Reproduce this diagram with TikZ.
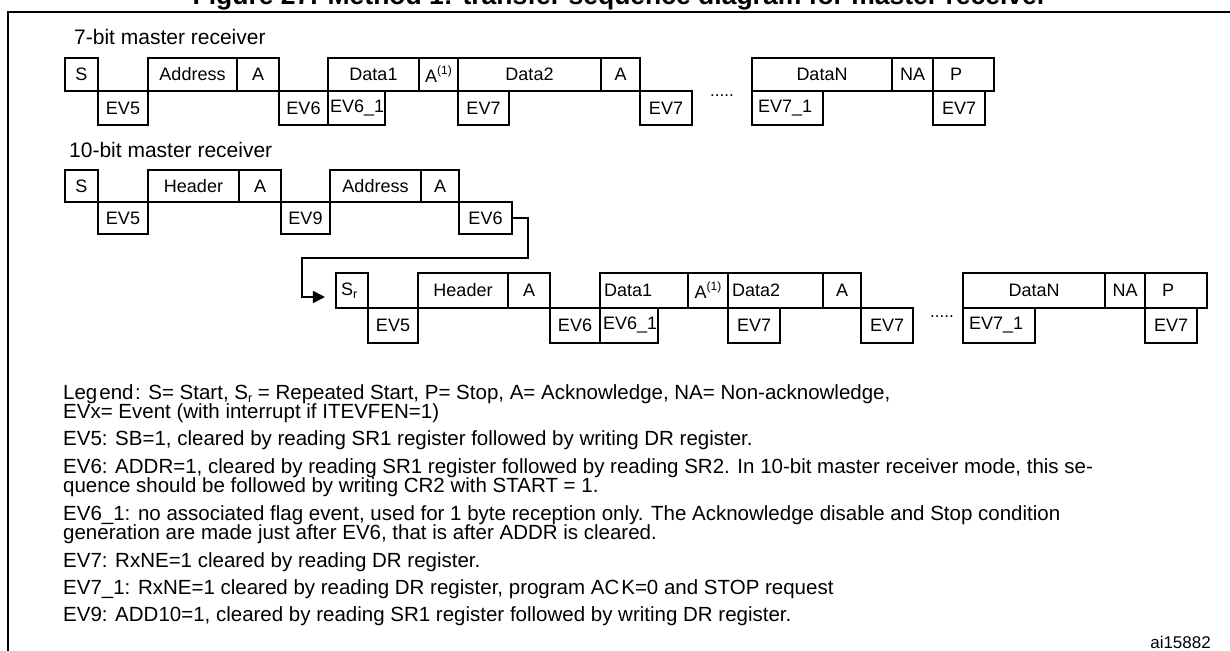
\documentclass[tikz,border=0pt]{standalone}
\usepackage{fontspec}
\setmainfont{Liberation Sans}
\usetikzlibrary{arrows.meta}
\newcommand\supone{\raisebox{0.45em}{\fontsize{12}{12}\selectfont(1)}}
\newcommand\subr{\raisebox{-0.15em}{\fontsize{12.5}{12.5}\selectfont r}}
% \cellbox{name}{x1}{x2}{y1}{y2}{label}
\newcommand\cellbox[6]{\node[cell,minimum width={#3pt-#2pt},minimum height={#5pt-#4pt}] (#1) at ({(#2+#3)/2},{(#4+#5)/2}) {#6};}
% \lcellbox[pad]{name}{x1}{x2}{y1}{y2}{label}
\newcommand\lcellbox[7][4]{\node[cell,minimum width={#4pt-#3pt},minimum height={#6pt-#5pt},text width={#4pt-#3pt-2*#1pt},inner xsep=#1pt,align=left] (#2) at ({(#3+#4)/2},{(#5+#6)/2}) {#7};}
\begin{document}
\begin{tikzpicture}[x=1pt,y=-1pt,
  cell/.style={draw,line width=2.1pt,inner sep=0pt,font=\fontsize{18}{20}\selectfont},
  heading/.style={anchor=base west,inner sep=0pt,font=\fontsize{21}{21}\selectfont},
  legline/.style={anchor=base west,inner sep=0pt,font=\fontsize{20.5}{21}\selectfont},
  dotsnode/.style={anchor=base,inner sep=0pt,font=\fontsize{17}{17}\selectfont},
  conn/.style={line width=1.7pt,-{Triangle[length=12pt,width=12pt]},shorten >=10pt}]
\useasboundingbox (0,0) rectangle (1230,650);
\clip (0,0) rectangle (1230,650);
% title (cut at top) and frame
\node[anchor=base,inner sep=0pt,font=\bfseries\fontsize{26.5}{27}\selectfont] (title) at (620,5) {Figure 27. Method 1: transfer sequence diagram for master receiver};
\draw[line width=2.4pt] (1232,12) -- (8,12) -- (8,652);
% ---------------- 7-bit
\node[heading] (h7) at (74,45) {7-bit master receiver};
\cellbox{a1}{65}{98}{58}{91}{S}
\cellbox{a2}{148}{237}{58}{91}{Address}
\cellbox{a3}{237}{279}{58}{91}{A}
\cellbox{a4}{328}{419}{58}{91}{Data1}
\cellbox{a5}{419}{458}{58}{91}{A\supone}
\cellbox{a6}{458}{601}{58}{91}{Data2}
\cellbox{a7}{601}{640}{58}{91}{A}
\cellbox{a8}{752}{892}{58}{91}{DataN}
\cellbox{a9}{892}{933}{58}{91}{NA}
\lcellbox[17]{a10}{933}{994}{58}{91}{P}
\cellbox{b1}{98}{148}{91}{125}{EV5}
\cellbox{b2}{279}{328}{91}{125}{EV6}
\lcellbox[2]{b3}{328}{385}{91}{125}{EV6\_1}
\cellbox{b4}{458}{509}{91}{125}{EV7}
\cellbox{b5}{640}{692}{91}{125}{EV7}
\lcellbox[6]{b6}{752}{823}{91}{125}{EV7\_1}
\cellbox{b7}{933}{985}{91}{125}{EV7}
\node[dotsnode] (d1) at (722,97) {.....};
% ---------------- 10-bit
\node[heading] (h10) at (69,157) {10-bit master receiver};
\cellbox{c1}{65}{98}{170}{202}{S}
\cellbox{c2}{148}{239}{170}{202}{Header}
\cellbox{c3}{239}{281}{170}{202}{A}
\cellbox{c4}{330}{421}{170}{202}{Address}
\cellbox{c5}{421}{459}{170}{202}{A}
\cellbox{e1}{98}{148}{202}{234}{EV5}
\cellbox{e2}{281}{330}{202}{234}{EV9}
\cellbox{e3}{459}{512}{202}{234}{EV6}
% ---------------- continuation
\lcellbox[5]{f1}{336}{368}{273}{308}{S\subr}
\cellbox{f2}{418}{508}{273}{308}{Header}
\cellbox{f3}{508}{550}{273}{308}{A}
\lcellbox[4]{f4}{600}{688}{273}{308}{Data1}
\cellbox{f5}{688}{728}{273}{308}{A\supone}
\lcellbox[4]{f6}{728}{823}{273}{308}{Data2}
\cellbox{f7}{823}{861}{273}{308}{A}
\cellbox{f8}{963}{1105}{273}{308}{DataN}
\cellbox{f9}{1105}{1145}{273}{308}{NA}
\lcellbox[17]{f10}{1145}{1207}{273}{308}{P}
\cellbox{g1}{368}{418}{308}{343}{EV5}
\cellbox{g2}{550}{600}{308}{343}{EV6}
\lcellbox[3]{g3}{600}{658}{308}{343}{EV6\_1}
\cellbox{g4}{728}{780}{308}{343}{EV7}
\cellbox{g5}{861}{913}{308}{343}{EV7}
\lcellbox[6]{g6}{963}{1035}{308}{343}{EV7\_1}
\cellbox{g7}{1145}{1197}{308}{343}{EV7}
\node[dotsnode] (d2) at (942,317) {.....};
% connector
\coordinate (cA) at (528,258);
\coordinate (cB) at (302,258);
\draw[conn] (e3.east) -| (cA) -- (cB) |- ([yshift=-6.5pt]f1.west);
% ---------------- legend
\node[legline] (l1) at (63,399) {Leg\kern2pt end\kern1.5pt: S= Start, S\subr\ = Repeated Start, P= Stop, A= Acknowledge, NA= Non-acknowledge,};
\node[legline] (l2) at (63,418.5) {EVx= Event (with interrupt if ITEVFEN=1)};
\node[legline] (l3) at (63,445.9) {EV5: SB=1, cleared by reading SR1 register followed by writing DR register.};
\node[legline] (l4) at (63,473.3) {EV6: ADDR=1, cleared by reading SR1 register followed by reading SR2. In 10-bit master receiver mode, this se-};
\node[legline] (l5) at (63,492.8) {quence should be followed by writing CR2 with START = 1.};
\node[legline] (l6) at (63,520.2) {EV6\_1: no associated flag event, used for 1 byte reception only. The Acknowledge disable and Stop condition};
\node[legline] (l7) at (63,539.7) {generation are made just after EV6, that is after ADDR is cleared.};
\node[legline] (l8) at (63,567.1) {EV7: RxNE=1 cleared by reading DR register.};
\node[legline] (l9) at (63,594.5) {EV7\_1: RxNE=1 cleared by reading DR register, program AC\kern2pt K=0 and STOP request};
\node[legline] (l10) at (63,621.9) {EV9: ADD10=1, cleared by reading SR1 register followed by writing DR register.};
\node[anchor=base east,inner sep=0pt,font=\fontsize{17}{17}\selectfont] (id) at (1211,648) {ai15882};
\end{tikzpicture}
\end{document}
